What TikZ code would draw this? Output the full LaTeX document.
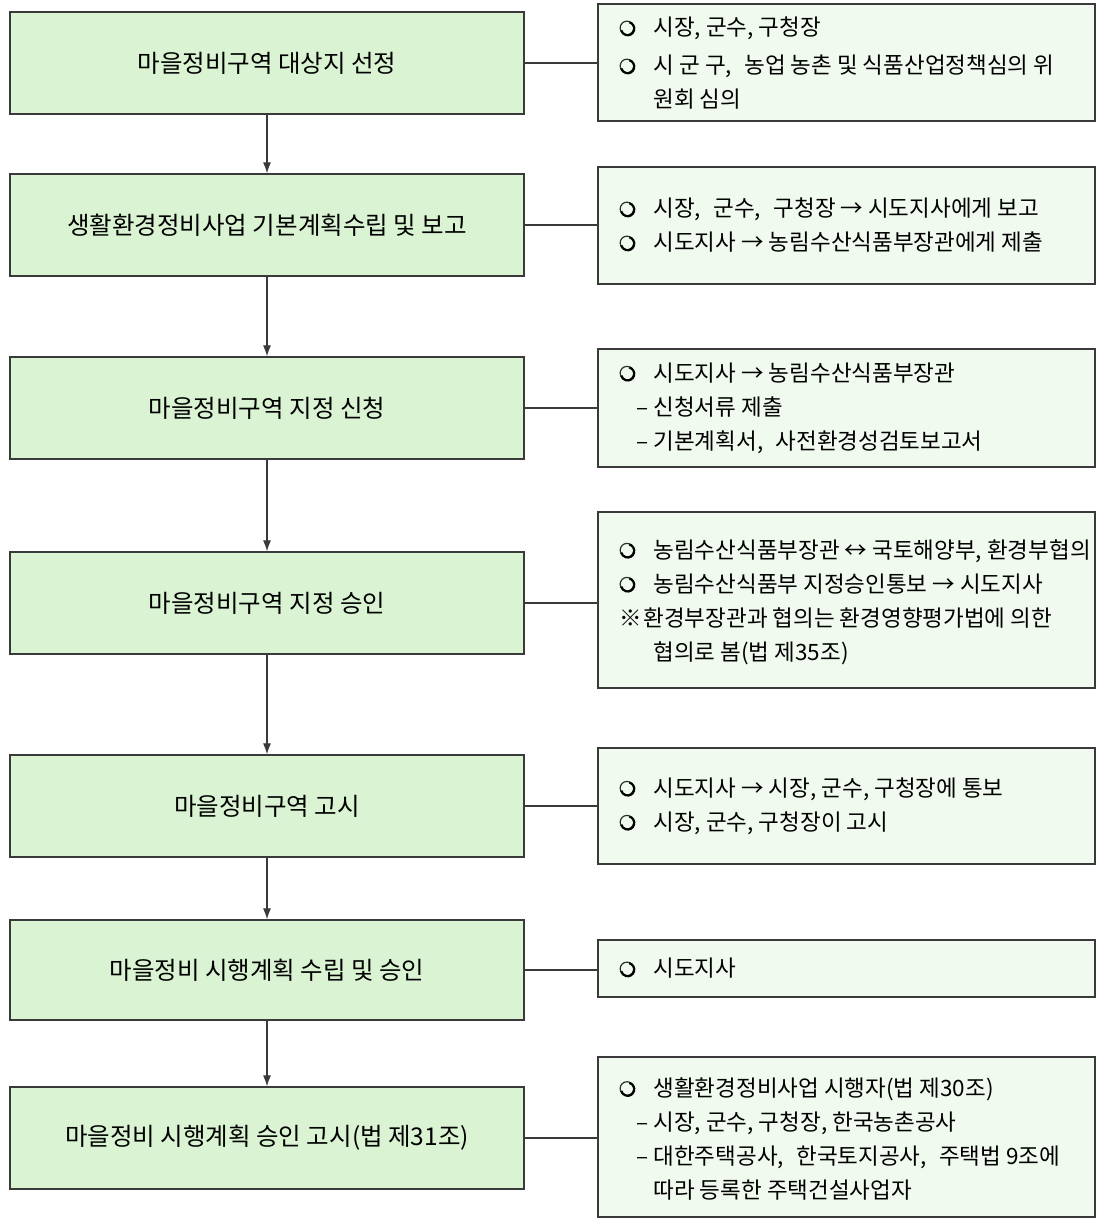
\documentclass[tikz,border=0pt]{standalone}
\usepackage{fontspec}
\setmainfont{Noto Sans CJK KR}
\usetikzlibrary{arrows.meta}

\definecolor{linegray}{HTML}{3A3A3A}
\definecolor{stepfill}{HTML}{DAF3D2}
\definecolor{notefill}{HTML}{F1FAEF}

% list markers for the note boxes
\newcommand\bul{\makebox[34pt][l]{\tikz[baseline=0pt,x=1pt,y=1pt]{%
  \draw[linegray!80!black,line width=1.2pt] (7.5,8) circle[radius=6.8];
  \draw[black,line width=2.2pt] (8.2,7.3) ++(75:6.6) arc[start angle=75,end angle=-165,radius=6.6];}}}
\newcommand\dsh{\makebox[34pt][l]{\hspace{17pt}–}}
\newcommand\contind{\hspace*{34pt}}
\newcommand\notemark{\makebox[24pt][l]{※}}
\newcommand\wsp{\hspace{0.55em}}

\tikzset{
  stepbox/.style={draw=linegray, line width=1.3pt, fill=stepfill,
    minimum width=514pt, minimum height=102pt, inner sep=0pt,
    font=\fontsize{24.5}{28}\selectfont},
  notebox/.style={draw=linegray, line width=1.3pt, fill=notefill,
    minimum width=497pt, inner sep=0pt},
  notetext/.style={anchor=west, align=left, inner sep=0pt,
    font=\fontsize{22.5}{34}\selectfont},
  flow/.style={draw=linegray, line width=1.2pt, -{Latex[length=11pt,width=8pt]}},
  link/.style={draw=linegray, line width=1.2pt},
}

\begin{document}
\begin{tikzpicture}[x=1pt,y=-1pt]
\useasboundingbox (0,0) rectangle (1096,1219);

% process steps
\node[stepbox] (L1) at (267,63)   {마을정비구역 대상지 선정};
\node[stepbox] (L2) at (267,225)  {생활환경정비사업 기본계획수립 및 보고};
\node[stepbox] (L3) at (267,408)  {마을정비구역 지정 신청};
\node[stepbox] (L4) at (267,603)  {마을정비구역 지정 승인};
\node[stepbox] (L5) at (267,806)  {마을정비구역 고시};
\node[stepbox, minimum height=100pt] (L6) at (267,970) {마을정비 시행계획 수립 및 승인};
\node[stepbox] (L7) at (267,1138) {마을정비 시행계획 승인 고시(법 제31조)};

% notes
\node[notebox, minimum height=117pt] (R1) at (846.5,62.5) {};
\node[notetext] (T1) at ([xshift=22pt,yshift=-1pt]R1.west)
  {\bul 시장, 군수, 구청장\\[4pt]
   \bul 시 군 구,\wsp 농업 농촌 및 식품산업정책심의 위\\
   \contind 원회 심의};

\node[notebox, minimum height=117pt] (R2) at (846.5,225.5) {};
\node[notetext] (T2) at ([xshift=22pt]R2.west)
  {\bul 시장,\wsp 군수,\wsp 구청장 → 시도지사에게 보고\\
   \bul 시도지사 → 농림수산식품부장관에게 제출};

\node[notebox, minimum height=118pt] (R3) at (846.5,408) {};
\node[notetext] (T3) at ([xshift=22pt]R3.west)
  {\bul 시도지사 → 농림수산식품부장관\\
   \dsh 신청서류 제출\\
   \dsh 기본계획서,\wsp 사전환경성검토보고서};

\node[notebox, minimum height=176pt] (R4) at (846.5,600) {};
\node[notetext] (T4) at ([xshift=22pt,yshift=-2pt]R4.west)
  {\bul 농림수산식품부장관 ↔ 국토해양부, 환경부협의\\
   \bul 농림수산식품부 지정승인통보 → 시도지사\\
   \notemark 환경부장관과 협의는 환경영향평가법에 의한\\
   \contind 협의로 봄(법 제35조)};

\node[notebox, minimum height=116pt] (R5) at (846.5,806) {};
\node[notetext] (T5) at ([xshift=22pt]R5.west)
  {\bul 시도지사 → 시장, 군수, 구청장에 통보\\
   \bul 시장, 군수, 구청장이 고시};

\node[notebox, minimum height=57pt] (R6) at (846.5,968.5) {};
\node[notetext] (T6) at ([xshift=22pt]R6.west) {\bul 시도지사};

\node[notebox, minimum height=160pt] (R7) at (846.5,1137) {};
\node[notetext] (T7) at ([xshift=22pt,yshift=-2pt]R7.west)
  {\bul 생활환경정비사업 시행자(법 제30조)\\
   \dsh 시장, 군수, 구청장, 한국농촌공사\\
   \dsh 대한주택공사,\wsp 한국토지공사,\wsp 주택법 9조에\\
   \contind 따라 등록한 주택건설사업자};

% flow between steps
\foreach \a/\b in {L1/L2,L2/L3,L3/L4,L4/L5,L5/L6,L6/L7}
  \draw[flow] (\a.south) -- (\b.north);

% links from steps to their notes
\foreach \s/\n in {L1/R1,L2/R2,L3/R3,L4/R4,L5/R5,L6/R6,L7/R7}
  \draw[link] (\s.east) -- (\s.east -| \n.west);
\end{tikzpicture}
\end{document}
